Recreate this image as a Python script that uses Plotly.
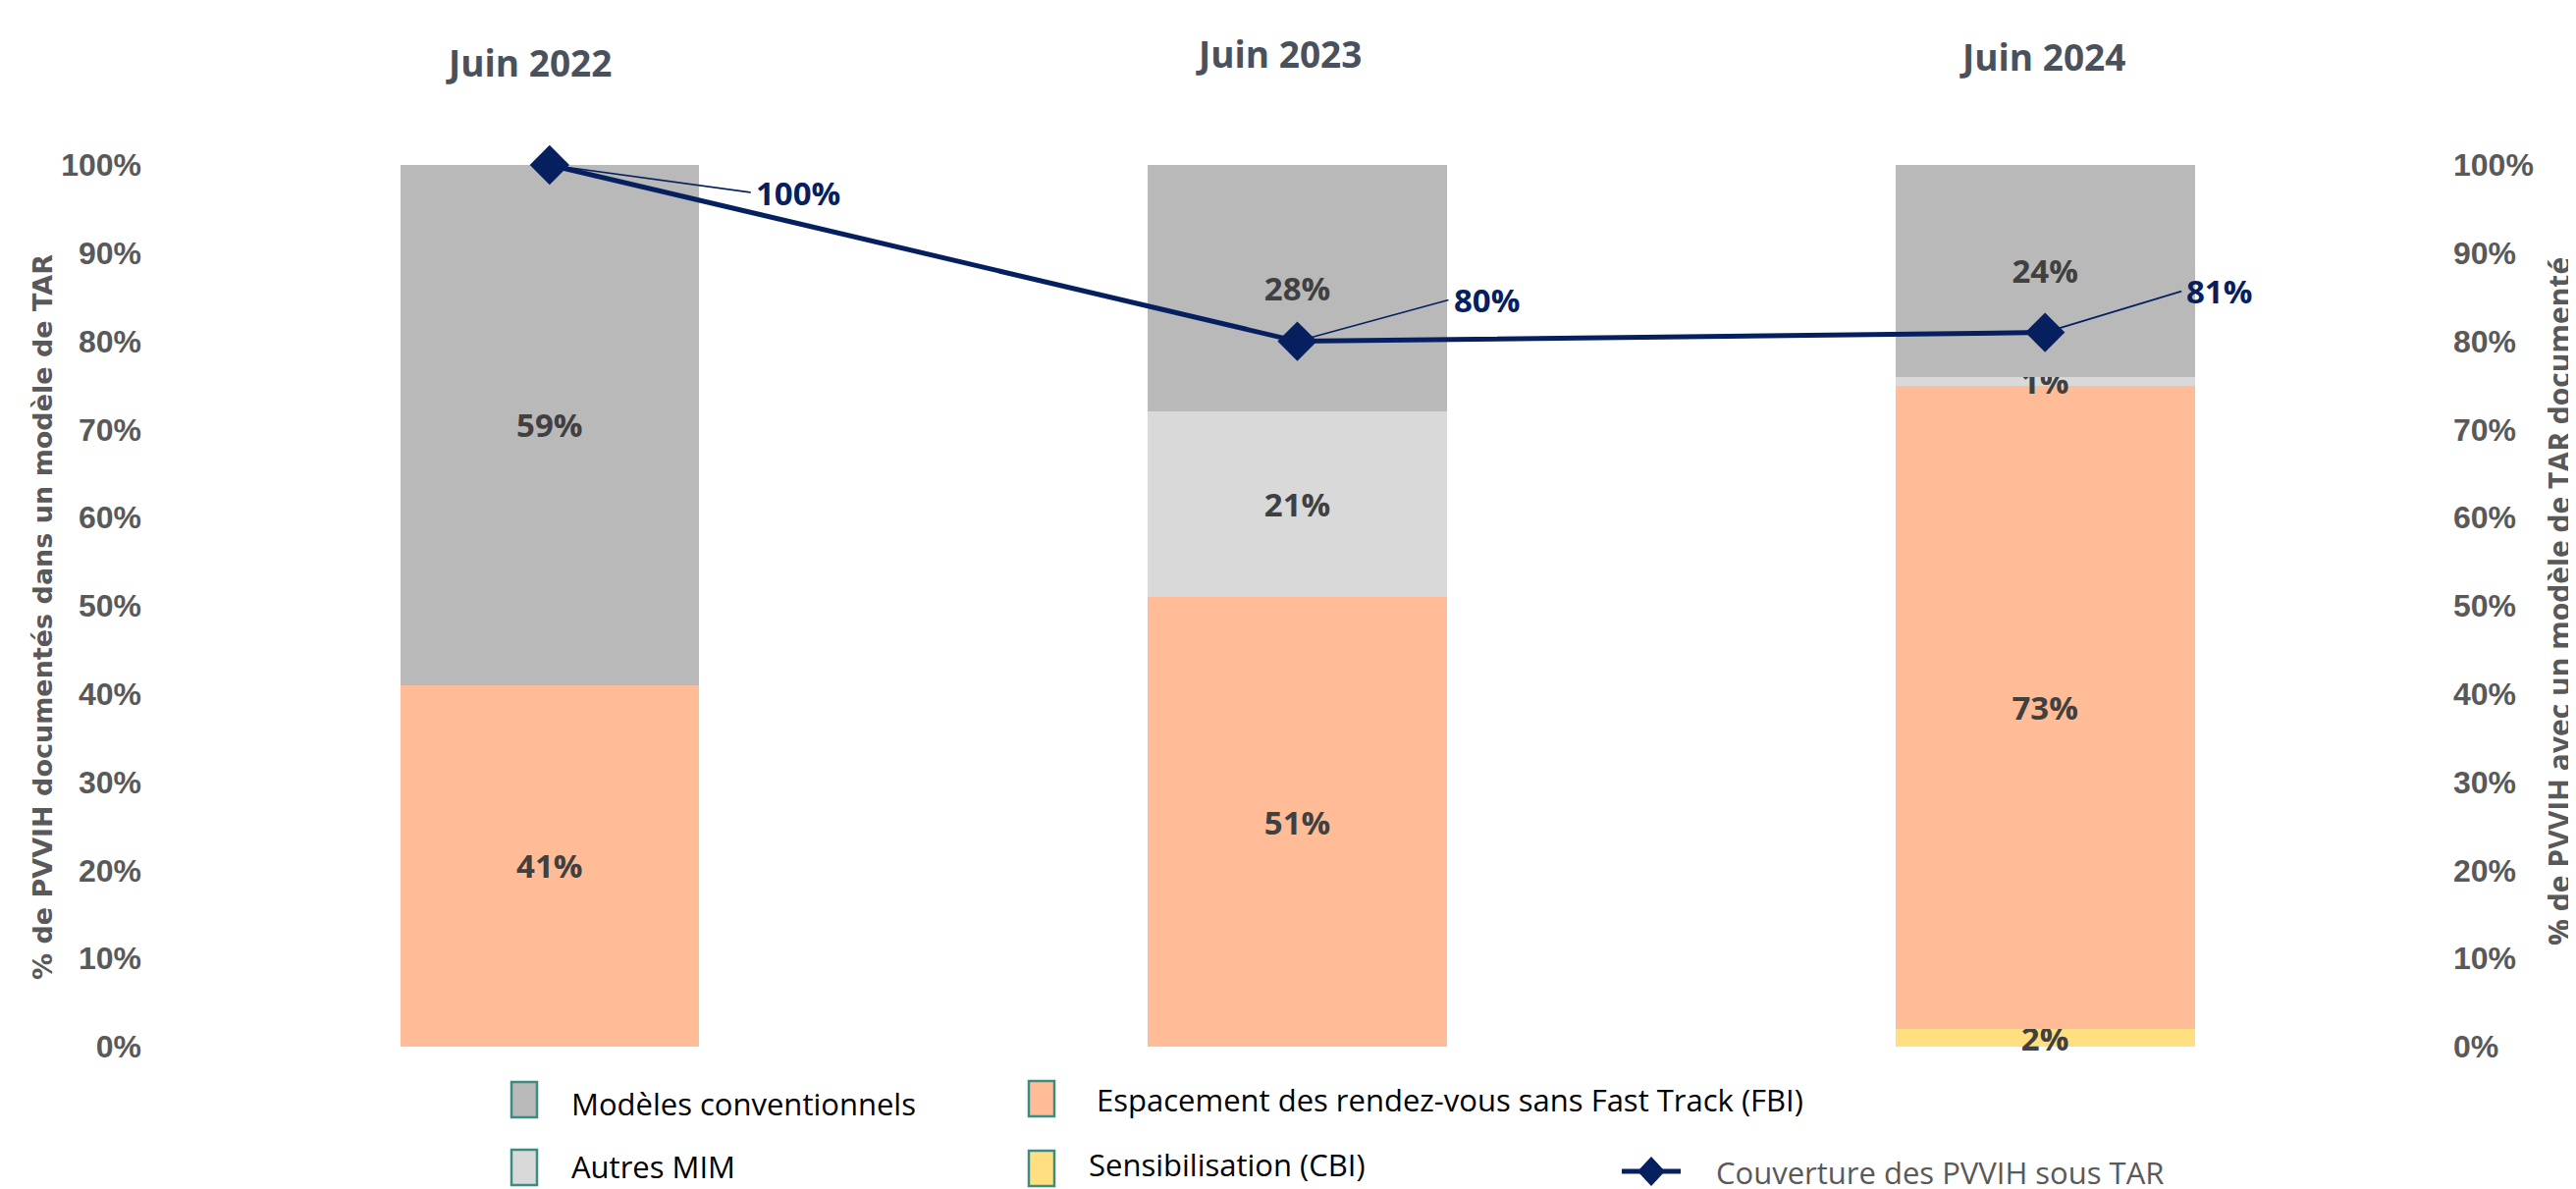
import plotly.graph_objects as go

# ---------------- data ----------------
categories = ["Juin 2022", "Juin 2023", "Juin 2024"]
sensibilisation_cbi = [0, 0, 2]
espacement_fbi = [41, 51, 73]
autres_mim = [0, 21, 1]
modeles_conventionnels = [59, 28, 24]
couverture_tar = [100, 80, 81]

y_tick_values = [0, 10, 20, 30, 40, 50, 60, 70, 80, 90, 100]
y_tick_labels = [f"{v}%" for v in y_tick_values]

series_names = ["Sensibilisation (CBI)", "Espacement des rendez-vous sans Fast Track (FBI)",
                "Autres MIM", "Modèles conventionnels"]
line_name = "Couverture des PVVIH sous TAR"
left_title = "% de PVVIH documentés dans un modèle de TAR"
right_title = "% de PVVIH avec un modèle de TAR documenté"

# ---------------- style ----------------
C_GRAY = "#B9B9B9"
C_LGRAY = "#D9D9D9"
C_PEACH = "#FFBC97"
C_YELLOW = "#FFDF80"
C_NAVY = "#06205F"
C_TEAL = "#3D8C84"
C_TICK = "#595959"
C_LBL = "#404040"
C_CAT = "#49525C"

W, H = 2624, 1211
L, T, PW, PH = 171, 160, 2285, 898
R = W - L - PW
B = H - T - PH


def px(X):
    return (X - L) / PW


def py(Y):
    return (T + PH - Y) / PH


fig = go.Figure()

bar_series = [
    (series_names[0], sensibilisation_cbi, C_YELLOW),
    (series_names[1], espacement_fbi, C_PEACH),
    (series_names[2], autres_mim, C_LGRAY),
    (series_names[3], modeles_conventionnels, C_GRAY),
]
for name, vals, col in bar_series:
    fig.add_trace(go.Bar(
        x=categories, y=vals, name=name, width=0.4,
        marker=dict(color=col, line=dict(width=0)),
        text=[f"{v}%" if v else "" for v in vals],
        textposition="inside", insidetextanchor="middle", constraintext="none",
        textfont=dict(family="Open Sans", size=33, color=C_LBL, weight="bold"),
        showlegend=False, hoverinfo="skip", cliponaxis=False,
    ))

fig.add_trace(go.Scatter(
    x=categories, y=couverture_tar, yaxis="y2", name=line_name,
    mode="lines+markers",
    line=dict(color=C_NAVY, width=5),
    marker=dict(symbol="diamond", size=31, color=C_NAVY),
    showlegend=False, hoverinfo="skip", cliponaxis=False,
))

annotations = []
# line labels with leader lines
label_offsets = [(205, 28), (154, -42), (139, -42)]
for cat, v, (ax, ay) in zip(categories, couverture_tar, label_offsets):
    annotations.append(dict(
        x=cat, y=v, xref="x", yref="y2", text=f"{v}%",
        showarrow=True, arrowhead=0, arrowwidth=1.6, arrowcolor=C_NAVY,
        ax=ax, ay=ay, xanchor="left", yanchor="middle", borderpad=4, standoff=0,
        font=dict(family="Open Sans", size=33, color=C_NAVY, weight="bold"),
    ))

# category titles on top
cat_pos = [(-21, 55), (-19, 46), (-3, 50)]
for cat, (xs, yy) in zip(categories, cat_pos):
    annotations.append(dict(
        x=cat, y=py(yy), xref="x", yref="paper", xshift=xs, text=cat, showarrow=False,
        xanchor="center", yanchor="middle",
        font=dict(family="Open Sans", size=37, color=C_CAT, weight="bold"),
    ))

# axis titles
annotations.append(dict(
    x=px(35), y=py(621), xref="paper", yref="paper", text=left_title, textangle=-90,
    showarrow=False, xanchor="center", yanchor="middle",
    font=dict(family="DejaVu Sans", size=27, color=C_TICK, weight="bold"),
))
annotations.append(dict(
    x=px(2598), y=py(605), xref="paper", yref="paper", text=right_title, textangle=-90,
    showarrow=False, xanchor="center", yanchor="middle",
    font=dict(family="Open Sans", size=30, color=C_TICK, weight="bold"),
))

# custom legend
shapes = []
legend_items = [
    (series_names[3], C_GRAY, 526, 1112, 572, 1116),
    (series_names[1], C_PEACH, 1053, 1111, 1107, 1112),
    (series_names[2], C_LGRAY, 526, 1181, 572, 1180),
    (series_names[0], C_YELLOW, 1053, 1182, 1099, 1178),
]
mw, mh = 26, 36
for name, col, mx, my, tx, ty in legend_items:
    shapes.append(dict(
        type="rect", xref="paper", yref="paper",
        x0=px(mx - mw / 2), x1=px(mx + mw / 2), y0=py(my + mh / 2), y1=py(my - mh / 2),
        fillcolor=col, line=dict(color=C_TEAL, width=2.5),
    ))
    annotations.append(dict(
        x=px(tx), y=py(ty), xref="paper", yref="paper", text=name, showarrow=False,
        xanchor="left", yanchor="middle",
        font=dict(family="Open Sans", size=31, color="black"),
    ))

# line legend entry
lx, ly = 1674, 1185
shapes.append(dict(type="line", xref="paper", yref="paper",
                   x0=px(lx - 30), x1=px(lx + 30), y0=py(ly), y1=py(ly),
                   line=dict(color=C_NAVY, width=5)))
dw, dh = 14, 15
shapes.append(dict(type="path", xref="paper", yref="paper",
                   path=(f"M {px(lx - dw)},{py(ly)} L {px(lx)},{py(ly - dh)} "
                         f"L {px(lx + dw)},{py(ly)} L {px(lx)},{py(ly + dh)} Z"),
                   fillcolor=C_NAVY, line=dict(color=C_NAVY, width=0)))
annotations.append(dict(
    x=px(1738), y=py(1186), xref="paper", yref="paper", text=line_name, showarrow=False,
    xanchor="left", yanchor="middle",
    font=dict(family="Open Sans", size=31, color=C_TICK),
))

axis_common = dict(
    range=[0, 100], tickvals=y_tick_values, ticktext=y_tick_labels,
    showgrid=False, zeroline=False, showline=False, ticks="",
    tickfont=dict(family="Liberation Sans", size=32, color=C_TICK, weight="bold"),
    ticklabelstandoff=34, fixedrange=True,
)

fig.update_layout(
    width=W, height=H,
    margin=dict(l=L, r=R, t=T, b=B, pad=0),
    barmode="stack",
    paper_bgcolor="white", plot_bgcolor="white",
    xaxis=dict(range=[-0.5, 2.5], showticklabels=False, showgrid=False,
               zeroline=False, showline=False, ticks=""),
    yaxis=dict(side="left", **axis_common),
    yaxis2=dict(side="right", overlaying="y", **axis_common),
    annotations=annotations,
    shapes=shapes,
    showlegend=False,
)

fig.write_html("out.html")
